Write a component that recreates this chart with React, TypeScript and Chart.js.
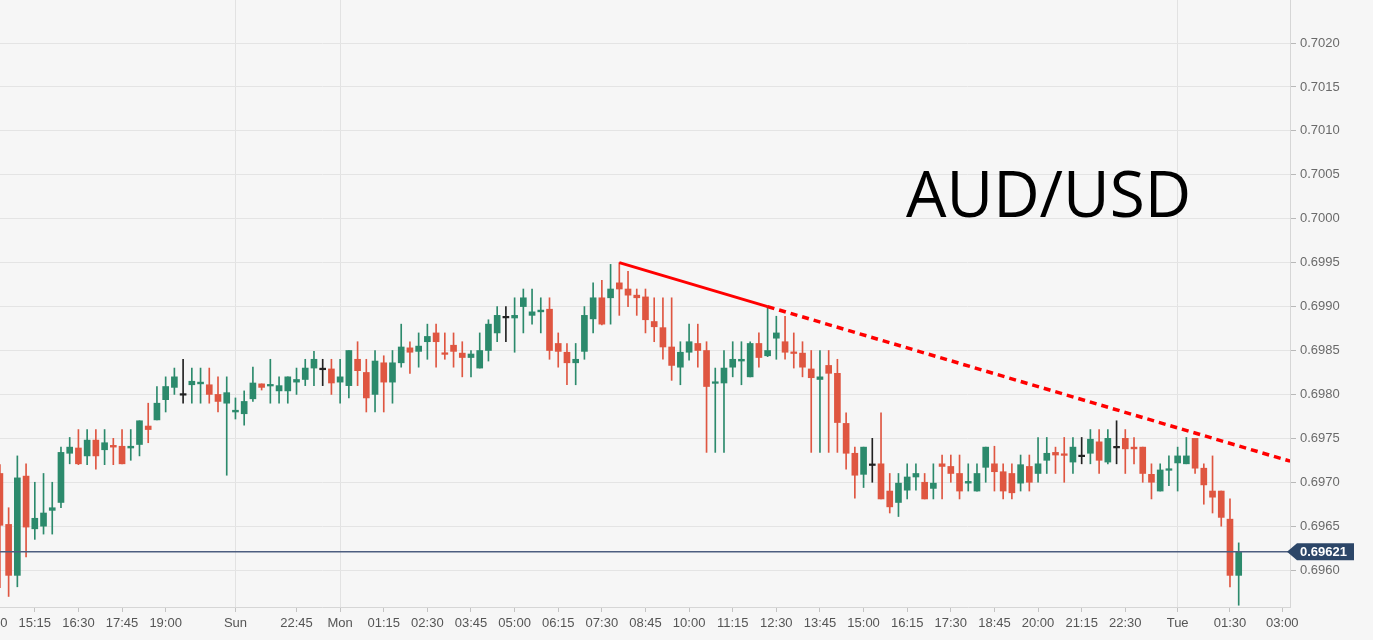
import React, { useEffect, useRef } from 'react';
import { Chart, registerables } from 'chart.js';

Chart.register(...registerables);

// 15-minute candles, index 0 = Fri 14:15 (weekend gap removed)
const opens = [
  0.69710, 0.69652, 0.69594, 0.69707, 0.69647, 0.69650, 0.69668, 0.69677, 0.69733, 0.69739,
  0.69730, 0.69748, 0.69737, 0.69742, 0.69741, 0.69739, 0.69743, 0.69764, 0.69771, 0.69794,
  0.69808, 0.69800, 0.69811, 0.69812, 0.69811, 0.69800, 0.69790, 0.69780, 0.69778, 0.69795,
  0.69812, 0.69810, 0.69804, 0.69804, 0.69814, 0.69817, 0.69830, 0.69829, 0.69829, 0.69814,
  0.69810, 0.69840, 0.69825, 0.69800, 0.69836, 0.69814, 0.69836, 0.69853, 0.69849, 0.69860,
  0.69870, 0.69847, 0.69856, 0.69847, 0.69842, 0.69830, 0.69850, 0.69870, 0.69888, 0.69887,
  0.69900, 0.69890, 0.69894, 0.69897, 0.69858, 0.69848, 0.69836, 0.69849, 0.69886, 0.69910,
  0.69910, 0.69927, 0.69920, 0.69913, 0.69911, 0.69883, 0.69876, 0.69854, 0.69831, 0.69848,
  0.69858, 0.69850, 0.69813, 0.69813, 0.69831, 0.69838, 0.69820, 0.69858, 0.69844, 0.69864,
  0.69860, 0.69848, 0.69847, 0.69829, 0.69817, 0.69833, 0.69824, 0.69767, 0.69733, 0.69709,
  0.69720, 0.69721, 0.69690, 0.69677, 0.69691, 0.69706, 0.69700, 0.69693, 0.69721, 0.69718,
  0.69710, 0.69699, 0.69690, 0.69717, 0.69721, 0.69712, 0.69710, 0.69699, 0.69718, 0.69710,
  0.69725, 0.69734, 0.69732, 0.69723, 0.69730, 0.69733, 0.69746, 0.69723, 0.69740, 0.69750,
  0.69740, 0.69740, 0.69709, 0.69690, 0.69714, 0.69722, 0.69721, 0.69750, 0.69716, 0.69690,
  0.69690, 0.69658, 0.69594,
];
const highs = [
  0.69720, 0.69671, 0.69730, 0.69721, 0.69700, 0.69710, 0.69700, 0.69740, 0.69751, 0.69760,
  0.69760, 0.69760, 0.69760, 0.69750, 0.69760, 0.69760, 0.69770, 0.69790, 0.69809, 0.69820,
  0.69830, 0.69840, 0.69830, 0.69830, 0.69830, 0.69820, 0.69820, 0.69796, 0.69804, 0.69831,
  0.69812, 0.69840, 0.69820, 0.69820, 0.69830, 0.69840, 0.69849, 0.69840, 0.69840, 0.69840,
  0.69850, 0.69860, 0.69840, 0.69850, 0.69844, 0.69850, 0.69880, 0.69860, 0.69870, 0.69880,
  0.69880, 0.69870, 0.69870, 0.69860, 0.69850, 0.69870, 0.69885, 0.69900, 0.69900, 0.69910,
  0.69920, 0.69920, 0.69910, 0.69910, 0.69870, 0.69858, 0.69858, 0.69900, 0.69927, 0.69930,
  0.69948, 0.69950, 0.69940, 0.69920, 0.69920, 0.69910, 0.69910, 0.69910, 0.69860, 0.69880,
  0.69880, 0.69860, 0.69830, 0.69850, 0.69860, 0.69860, 0.69860, 0.69870, 0.69900, 0.69889,
  0.69889, 0.69870, 0.69860, 0.69850, 0.69850, 0.69850, 0.69840, 0.69779, 0.69740, 0.69740,
  0.69750, 0.69779, 0.69710, 0.69710, 0.69721, 0.69721, 0.69710, 0.69721, 0.69731, 0.69731,
  0.69731, 0.69721, 0.69721, 0.69740, 0.69741, 0.69721, 0.69721, 0.69731, 0.69731, 0.69751,
  0.69751, 0.69740, 0.69751, 0.69751, 0.69751, 0.69760, 0.69760, 0.69760, 0.69770, 0.69760,
  0.69751, 0.69740, 0.69721, 0.69721, 0.69730, 0.69740, 0.69751, 0.69750, 0.69721, 0.69730,
  0.69690, 0.69681, 0.69631,
];
const lows = [
  0.69580, 0.69570, 0.69581, 0.69615, 0.69635, 0.69641, 0.69641, 0.69671, 0.69721, 0.69720,
  0.69720, 0.69715, 0.69720, 0.69720, 0.69721, 0.69725, 0.69730, 0.69745, 0.69771, 0.69780,
  0.69800, 0.69790, 0.69790, 0.69790, 0.69790, 0.69780, 0.69708, 0.69772, 0.69765, 0.69792,
  0.69805, 0.69790, 0.69790, 0.69790, 0.69800, 0.69810, 0.69810, 0.69810, 0.69800, 0.69790,
  0.69796, 0.69810, 0.69780, 0.69780, 0.69780, 0.69790, 0.69831, 0.69824, 0.69831, 0.69840,
  0.69831, 0.69840, 0.69831, 0.69820, 0.69820, 0.69830, 0.69838, 0.69860, 0.69860, 0.69848,
  0.69870, 0.69880, 0.69870, 0.69840, 0.69831, 0.69811, 0.69811, 0.69840, 0.69870, 0.69879,
  0.69880, 0.69890, 0.69900, 0.69890, 0.69870, 0.69860, 0.69840, 0.69816, 0.69811, 0.69839,
  0.69831, 0.69734, 0.69734, 0.69734, 0.69820, 0.69811, 0.69820, 0.69831, 0.69843, 0.69840,
  0.69840, 0.69830, 0.69820, 0.69734, 0.69734, 0.69734, 0.69734, 0.69715, 0.69682, 0.69694,
  0.69700, 0.69681, 0.69665, 0.69661, 0.69681, 0.69691, 0.69681, 0.69681, 0.69681, 0.69700,
  0.69681, 0.69690, 0.69690, 0.69700, 0.69690, 0.69681, 0.69681, 0.69690, 0.69690, 0.69700,
  0.69710, 0.69710, 0.69700, 0.69710, 0.69721, 0.69721, 0.69710, 0.69721, 0.69721, 0.69710,
  0.69721, 0.69700, 0.69681, 0.69690, 0.69696, 0.69690, 0.69721, 0.69710, 0.69675, 0.69665,
  0.69650, 0.69581, 0.69560,
];
const closes = [
  0.69651, 0.69594, 0.69705, 0.69649, 0.69659, 0.69665, 0.69671, 0.69734, 0.69740, 0.69721,
  0.69748, 0.69730, 0.69745, 0.69740, 0.69721, 0.69741, 0.69770, 0.69760, 0.69790, 0.69809,
  0.69820, 0.69800, 0.69815, 0.69814, 0.69800, 0.69792, 0.69802, 0.69782, 0.69792, 0.69813,
  0.69808, 0.69811, 0.69810, 0.69820, 0.69817, 0.69830, 0.69840, 0.69829, 0.69813, 0.69820,
  0.69850, 0.69827, 0.69796, 0.69838, 0.69814, 0.69836, 0.69854, 0.69848, 0.69855, 0.69866,
  0.69860, 0.69846, 0.69849, 0.69842, 0.69846, 0.69850, 0.69880, 0.69890, 0.69888, 0.69890,
  0.69910, 0.69894, 0.69896, 0.69850, 0.69849, 0.69836, 0.69840, 0.69890, 0.69910, 0.69880,
  0.69920, 0.69920, 0.69913, 0.69910, 0.69885, 0.69877, 0.69854, 0.69833, 0.69848, 0.69860,
  0.69850, 0.69809, 0.69814, 0.69830, 0.69840, 0.69840, 0.69858, 0.69842, 0.69850, 0.69870,
  0.69848, 0.69847, 0.69831, 0.69819, 0.69820, 0.69824, 0.69768, 0.69733, 0.69708, 0.69740,
  0.69720, 0.69681, 0.69672, 0.69699, 0.69706, 0.69710, 0.69681, 0.69699, 0.69718, 0.69710,
  0.69690, 0.69701, 0.69710, 0.69740, 0.69712, 0.69690, 0.69688, 0.69720, 0.69700, 0.69721,
  0.69733, 0.69731, 0.69731, 0.69740, 0.69730, 0.69749, 0.69725, 0.69750, 0.69740, 0.69738,
  0.69738, 0.69710, 0.69700, 0.69714, 0.69715, 0.69730, 0.69730, 0.69716, 0.69697, 0.69683,
  0.69660, 0.69594, 0.69621,
];

// x-axis labels at candle indices
const tickIndex = [-1, 4, 9, 14, 19, 27, 34, 39, 44, 49, 54, 59, 64, 69, 74, 79, 84, 89, 94, 99, 104, 109, 114, 119, 124, 129, 135, 141, 147];
const tickLabels = ['14:00', '15:15', '16:30', '17:45', '19:00', 'Sun', '22:45', 'Mon', '01:15', '02:30', '03:45', '05:00', '06:15', '07:30', '08:45', '10:00', '11:15', '12:30', '13:45', '15:00', '16:15', '17:30', '18:45', '20:00', '21:15', '22:30', 'Tue', '01:30', '03:00'];
const dayLabels = ['Sun', 'Mon', 'Tue'];

const yTicks = [0.6960, 0.6965, 0.6970, 0.6975, 0.6980, 0.6985, 0.6990, 0.6995, 0.7000, 0.7005, 0.7010, 0.7015, 0.7020];

// trend line (solid part, then dotted projection)
const trendX = [71, 88];
const trendY = [0.6995, 0.6990];
const trendExtX = [88, 147.9];
const trendExtY = [0.6990, 0.69724];

const currentPrice = 0.69621;
const title = 'AUD/USD';

const X_MIN = 0.011;
const X_MAX = 147.88;
const Y_MIN = 0.69558;
const Y_MAX = 0.70249;

const GREEN = '#2c8a6c';
const RED = '#df5641';
const BLACK = '#222222';
const BG = '#f6f6f6';
const MIN_BODY = 0.000018;

const candleColor = (i: number) =>
  closes[i] > opens[i] ? GREEN : closes[i] < opens[i] ? RED : BLACK;

const overlayPlugin = {
  id: 'overlay',
  afterDraw(chart: any) {
    const { ctx, chartArea, scales } = chart;
    ctx.save();
    ctx.font = '64px "Open Sans", "Noto Sans", sans-serif';
    ctx.fillStyle = '#000';
    ctx.textBaseline = 'alphabetic';
    ctx.textAlign = 'left';
    ctx.fillText(title, 906, 217);

    const py = scales.y.getPixelForValue(currentPrice);
    const x0 = chartArea.right - 3;
    ctx.fillStyle = '#2c4668';
    ctx.beginPath();
    ctx.moveTo(x0, py);
    ctx.lineTo(x0 + 10, py - 8.5);
    ctx.lineTo(1354, py - 8.5);
    ctx.lineTo(1354, py + 8.5);
    ctx.lineTo(x0 + 10, py + 8.5);
    ctx.closePath();
    ctx.fill();
    ctx.font = 'bold 13px "Liberation Sans", Arial, sans-serif';
    ctx.fillStyle = '#ffffff';
    ctx.textBaseline = 'middle';
    ctx.fillText(currentPrice.toFixed(5), x0 + 13, py + 0.5);
    ctx.restore();
  },
};

export default function App() {
  const ref = useRef<HTMLCanvasElement>(null);
  useEffect(() => {
    document.body.style.margin = '0';
    document.body.style.background = BG;
    const bodies = opens.map((o, i) => {
      const c = closes[i];
      let lo = Math.min(o, c);
      let hi = Math.max(o, c);
      if (hi - lo < MIN_BODY) {
        const m = (hi + lo) / 2;
        lo = m - MIN_BODY / 2;
        hi = m + MIN_BODY / 2;
      }
      return { x: i, y: [lo, hi] };
    });
    const wicks = opens.map((_, i) => ({ x: i, y: [lows[i], highs[i]] }));
    const colors = opens.map((_, i) => candleColor(i));

    const chart = new Chart(ref.current as HTMLCanvasElement, {
      type: 'bar',
      data: {
        datasets: [
          {
            type: 'line',
            data: trendX.map((x, i) => ({ x, y: trendY[i] })),
            borderColor: '#ff0000',
            borderWidth: 3,
            pointRadius: 0,
            order: 0,
          } as any,
          {
            type: 'line',
            data: trendExtX.map((x, i) => ({ x, y: trendExtY[i] })),
            borderColor: '#ff0000',
            borderWidth: 3.5,
            borderDash: [7, 5],
            pointRadius: 0,
            order: 0,
          } as any,
          {
            type: 'line',
            data: [{ x: X_MIN, y: currentPrice }, { x: X_MAX, y: currentPrice }],
            borderColor: '#4d5e80',
            borderWidth: 1.5,
            pointRadius: 0,
            order: 0,
          } as any,
          {
            type: 'bar',
            data: bodies,
            backgroundColor: colors,
            barThickness: 6,
            grouped: false,
            borderWidth: 0,
            order: 1,
          } as any,
          {
            type: 'bar',
            data: wicks,
            backgroundColor: colors,
            barThickness: 1,
            grouped: false,
            borderWidth: 0,
            order: 2,
          } as any,
        ],
      },
      options: {
        responsive: false,
        devicePixelRatio: 1,
        animation: false,
        layout: { padding: 0 },
        plugins: { legend: { display: false }, tooltip: { enabled: false } },
        scales: {
          x: {
            type: 'linear',
            min: X_MIN,
            max: X_MAX,
            offset: false,
            position: 'bottom',
            afterBuildTicks: (s: any) => {
              s.ticks = tickIndex.map((v) => ({ value: v }));
            },
            afterFit: (s: any) => {
              s.height = 33;
              s.paddingLeft = 0;
              s.paddingRight = 0;
            },
            ticks: {
              autoSkip: false,
              maxRotation: 0,
              minRotation: 0,
              padding: 4,
              color: '#555555',
              font: { family: '"Liberation Sans", Arial, sans-serif', size: 13 },
              callback: (v: any) => {
                const k = tickIndex.indexOf(Number(v));
                return k >= 0 ? tickLabels[k] : '';
              },
            },
            grid: {
              offset: false,
              drawOnChartArea: true,
              color: (ctx: any) => {
                const k = ctx.tick ? tickIndex.indexOf(ctx.tick.value) : -1;
                return k >= 0 && dayLabels.includes(tickLabels[k]) ? '#e2e2e2' : 'rgba(0,0,0,0)';
              },
              tickColor: '#c4c4c4',
              tickLength: 5,
            },
            border: { color: '#d6d6d6', width: 1 },
          } as any,
          y: {
            type: 'linear',
            position: 'right',
            min: Y_MIN,
            max: Y_MAX,
            afterBuildTicks: (s: any) => {
              s.ticks = yTicks.map((v) => ({ value: v }));
            },
            afterFit: (s: any) => {
              s.width = 83;
              s.paddingTop = 0;
              s.paddingBottom = 0;
            },
            ticks: {
              padding: 4,
              color: '#6a6a6a',
              font: { family: '"Liberation Sans", Arial, sans-serif', size: 13 },
              callback: (v: any) => Number(v).toFixed(4),
            },
            grid: {
              color: '#e4e4e4',
              tickColor: '#b8b8b8',
              tickLength: 6,
            },
            border: { color: '#d6d6d6', width: 1 },
          } as any,
        },
      },
      plugins: [overlayPlugin],
    } as any);
    return () => chart.destroy();
  }, []);

  return (
    <div style={{ position: 'fixed', left: 0, top: 0, width: 1373, height: 640, background: BG }}>
      <canvas ref={ref} width={1373} height={640} style={{ display: 'block', width: 1373, height: 640 }} />
    </div>
  );
}
